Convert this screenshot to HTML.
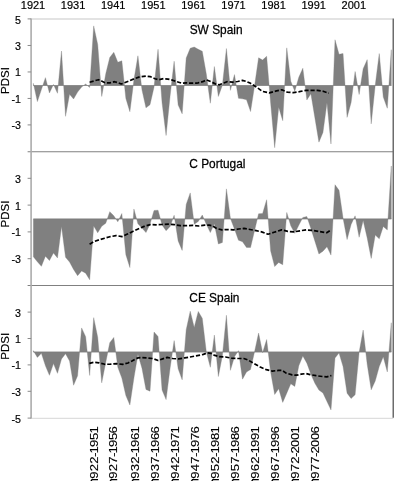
<!DOCTYPE html>
<html><head><meta charset="utf-8"><title>PDSI</title>
<style>
html,body{margin:0;padding:0;background:#fff;}
body{width:394px;height:481px;overflow:hidden;}
svg{display:block;filter:grayscale(1);font-family:"Liberation Sans",sans-serif;fill:#000;}
text{stroke:#000;}
</style></head><body>
<svg width="394" height="481" viewBox="0 0 394 481">
<rect x="0" y="0" width="394" height="481" fill="#ffffff"/>
<path d="M33.36,85.50 L33.36,83.35 L37.38,101.62 L41.40,89.57 L45.43,77.65 L49.45,93.01 L53.47,84.41 L57.49,93.28 L61.51,51.04 L65.54,116.31 L69.56,94.34 L73.58,98.97 L77.60,92.08 L81.62,87.05 L85.65,84.01 L89.67,87.45 L93.69,25.88 L97.71,44.42 L101.73,96.45 L105.76,73.81 L109.78,57.40 L113.80,52.36 L117.82,62.29 L121.84,60.84 L125.87,98.44 L129.89,111.68 L133.91,79.90 L137.93,55.81 L141.95,89.83 L145.98,107.84 L150.00,104.66 L154.02,87.19 L158.04,49.32 L162.06,102.81 L166.09,135.51 L170.11,95.66 L174.13,61.24 L178.15,105.06 L182.17,113.80 L186.20,58.06 L190.22,48.26 L194.24,47.07 L198.26,49.32 L202.28,51.31 L206.31,73.95 L210.33,103.21 L214.35,66.53 L218.37,96.45 L222.39,85.20 L226.42,48.53 L230.44,90.36 L234.46,74.61 L238.48,98.31 L242.50,98.84 L246.53,99.76 L250.55,111.55 L254.57,85.86 L258.59,57.79 L262.61,60.04 L266.64,56.34 L270.66,103.21 L274.68,147.69 L278.70,107.18 L282.72,120.68 L286.75,47.86 L290.77,81.23 L294.79,91.16 L298.81,77.26 L302.83,68.25 L306.86,99.90 L310.88,93.81 L314.90,117.90 L318.92,142.13 L322.94,132.47 L326.97,102.81 L330.99,143.99 L335.01,39.79 L339.03,54.35 L343.05,53.56 L347.08,117.37 L351.10,102.41 L355.12,71.56 L359.14,94.47 L363.16,68.78 L367.19,59.65 L371.21,123.86 L375.23,85.20 L379.25,53.56 L383.27,97.12 L387.30,108.24 L391.32,49.72 L391.32,85.50 Z" fill="#808080" stroke="#808080" stroke-width="0.35" stroke-linejoin="miter" stroke-miterlimit="5"/>
<line x1="33.36" y1="85.50" x2="391.32" y2="85.50" stroke="#7a7a7a" stroke-width="0.6"/>
<path d="M89.6,82.2 L93.9,81.0 L98.5,79.7 L101.5,81.0 L105.3,82.8 L109.9,82.8 L114.5,81.7 L118.3,82.8 L121.3,84.0 L125.1,82.5 L129.7,80.7 L134.3,78.7 L138.8,77.1 L145.9,76.1 L150.5,76.7 L155.0,78.7 L158.8,79.7 L163.4,78.7 L168.0,79.1 L172.5,80.2 L177.1,81.7 L181.7,83.2 L186.3,82.8 L190.8,83.2 L196.0,83.2 L198.1,82.8 L202.7,81.7 L206.5,79.9 L211.0,81.7 L215.6,84.0 L219.4,84.8 L223.2,83.2 L227.0,81.7 L232.4,82.2 L237.7,81.5 L242.3,80.4 L246.8,81.6 L250.0,83.1 L252.6,84.6 L257.1,87.6 L262.5,91.4 L269.3,92.9 L275.4,91.2 L281.8,89.8 L287.2,92.1 L293.3,92.7 L299.4,91.7 L306.0,90.3 L311.0,90.3 L317.5,90.3 L323.2,91.3 L328.8,93.3" fill="none" stroke="#000" stroke-width="1.7" stroke-dasharray="4.2 1.9" stroke-linejoin="round"/>
<path d="M33.36,218.90 L33.36,256.82 L37.38,261.78 L41.40,266.34 L45.43,256.15 L49.45,260.58 L53.47,252.94 L57.49,257.90 L61.51,226.41 L65.54,257.23 L69.56,262.05 L73.58,269.42 L77.60,275.72 L81.62,270.89 L85.65,273.17 L89.67,279.74 L93.69,226.00 L97.71,232.84 L101.73,226.27 L105.76,223.19 L109.78,211.67 L113.80,215.82 L117.82,221.85 L121.84,213.54 L125.87,254.68 L129.89,267.54 L133.91,208.99 L137.93,223.86 L141.95,228.01 L145.98,232.57 L150.00,224.13 L154.02,210.46 L158.04,210.19 L162.06,224.93 L166.09,230.69 L170.11,226.41 L174.13,215.28 L178.15,240.88 L182.17,250.39 L186.20,204.43 L190.22,192.91 L194.24,224.13 L198.26,221.45 L202.28,215.02 L206.31,224.13 L210.33,232.57 L214.35,223.86 L218.37,243.96 L222.39,242.49 L226.42,188.89 L230.44,218.50 L234.46,229.09 L238.48,240.21 L242.50,241.68 L246.53,247.44 L250.55,247.44 L254.57,230.56 L258.59,213.81 L262.61,213.54 L266.64,199.74 L270.66,251.06 L274.68,266.61 L278.70,262.45 L282.72,264.73 L286.75,212.47 L290.77,225.74 L294.79,233.37 L298.81,225.20 L302.83,217.43 L306.86,216.62 L310.88,228.42 L314.90,241.15 L318.92,254.01 L322.94,251.20 L326.97,246.64 L330.99,255.08 L335.01,184.73 L339.03,190.36 L343.05,218.10 L347.08,239.54 L351.10,224.53 L355.12,215.82 L359.14,237.26 L363.16,220.51 L367.19,237.93 L371.21,258.43 L375.23,235.12 L379.25,238.87 L383.27,226.41 L387.30,229.89 L391.32,165.97 L391.32,218.90 Z" fill="#808080" stroke="#808080" stroke-width="0.35" stroke-linejoin="miter" stroke-miterlimit="5"/>
<line x1="33.36" y1="218.90" x2="391.32" y2="218.90" stroke="#7a7a7a" stroke-width="0.6"/>
<path d="M89.6,244.2 L93.9,241.6 L99.2,239.8 L104.6,238.2 L109.9,236.7 L116.0,235.6 L122.1,236.6 L127.4,234.1 L132.7,231.5 L138.1,229.0 L144.2,226.4 L150.3,224.6 L156.0,224.8 L162.1,224.5 L168.2,224.2 L174.3,224.6 L180.4,225.7 L186.5,225.7 L192.5,225.4 L198.6,226.0 L204.7,225.1 L209.3,225.1 L212.0,225.7 L216.6,228.4 L221.9,229.9 L227.2,229.5 L233.3,229.9 L238.6,229.0 L244.0,228.4 L250.1,229.5 L256.2,230.6 L262.3,232.1 L268.0,234.2 L274.1,232.3 L281.7,229.9 L287.8,231.4 L293.9,231.9 L300.0,230.8 L306.1,229.9 L312.2,230.4 L318.3,231.3 L326.7,232.7 L331.3,229.9" fill="none" stroke="#000" stroke-width="1.7" stroke-dasharray="4.2 1.9" stroke-linejoin="round"/>
<path d="M33.36,352.00 L33.36,350.64 L37.38,357.38 L41.40,353.28 L45.43,365.82 L49.45,375.33 L53.47,363.58 L57.49,373.35 L61.51,358.96 L65.54,353.68 L69.56,360.94 L73.58,385.23 L77.60,375.72 L81.62,327.94 L85.65,336.65 L89.67,375.46 L93.69,317.64 L97.71,337.18 L101.73,382.85 L105.76,362.26 L109.78,342.72 L113.80,337.44 L117.82,367.28 L121.84,378.10 L125.87,395.52 L129.89,405.03 L133.91,378.10 L137.93,354.34 L141.95,368.20 L145.98,389.45 L150.00,391.17 L154.02,332.03 L158.04,336.52 L162.06,389.98 L166.09,399.62 L170.11,367.94 L174.13,340.61 L178.15,368.86 L182.17,379.82 L186.20,329.66 L190.22,311.18 L194.24,327.41 L198.26,311.44 L202.28,318.30 L206.31,351.70 L210.33,367.28 L214.35,335.07 L218.37,376.52 L222.39,355.66 L226.42,315.27 L230.44,370.31 L234.46,356.72 L238.48,350.64 L242.50,379.16 L246.53,371.90 L250.55,369.52 L254.57,351.70 L258.59,333.09 L262.61,352.76 L266.64,339.56 L270.66,372.16 L274.68,394.47 L278.70,388.66 L282.72,402.39 L286.75,393.15 L290.77,383.78 L294.79,386.42 L298.81,365.82 L302.83,355.92 L306.86,363.18 L310.88,374.14 L314.90,383.25 L318.92,390.11 L322.94,392.88 L326.97,401.60 L330.99,409.91 L335.01,358.04 L339.03,353.02 L343.05,366.62 L347.08,393.15 L351.10,398.56 L355.12,394.73 L359.14,352.36 L363.16,330.05 L367.19,364.37 L371.21,389.85 L375.23,381.00 L379.25,366.62 L383.27,356.72 L387.30,371.90 L391.32,322.79 L391.32,352.00 Z" fill="#808080" stroke="#808080" stroke-width="0.35" stroke-linejoin="miter" stroke-miterlimit="5"/>
<line x1="33.36" y1="352.00" x2="391.32" y2="352.00" stroke="#7a7a7a" stroke-width="0.6"/>
<path d="M89.3,363.4 L94.2,362.2 L99.0,362.8 L104.8,364.3 L110.5,364.2 L116.6,363.7 L122.7,364.4 L128.0,363.0 L132.0,361.0 L135.0,359.2 L138.1,357.9 L142.0,357.6 L146.7,357.9 L152.8,358.5 L158.1,360.5 L162.6,358.9 L167.2,357.4 L172.5,358.5 L178.6,358.9 L184.7,357.9 L190.1,357.0 L196.0,355.9 L203.4,354.4 L207.2,352.9 L211.0,353.3 L214.8,355.4 L219.4,356.7 L225.5,357.0 L231.6,358.2 L237.7,358.5 L243.8,358.5 L248.0,360.0 L254.1,363.5 L260.2,367.0 L266.3,369.6 L272.4,371.1 L278.5,370.4 L282.3,370.4 L286.1,373.1 L292.2,374.9 L296.7,375.2 L301.3,374.2 L306.0,373.5 L310.1,374.6 L316.2,375.7 L322.3,376.5 L326.8,376.9 L331.4,375.5" fill="none" stroke="#000" stroke-width="1.7" stroke-dasharray="4.2 1.9" stroke-linejoin="round"/>
<line x1="31.10" y1="18.90" x2="392.60" y2="18.90" stroke="#dadada" stroke-width="1.5"/>
<line x1="31.10" y1="418.30" x2="393.30" y2="418.30" stroke="#d6d6d6" stroke-width="1"/>
<line x1="27.60" y1="151.80" x2="393.30" y2="151.80" stroke="#808080" stroke-width="1.05"/>
<line x1="27.60" y1="285.50" x2="393.30" y2="285.50" stroke="#808080" stroke-width="1.05"/>
<line x1="31.10" y1="18.40" x2="31.10" y2="418.60" stroke="#acacac" stroke-width="1.60"/>
<line x1="393.30" y1="18.40" x2="393.30" y2="417.70" stroke="#6c6c6c" stroke-width="1.6"/>
<line x1="27.6" y1="18.90" x2="31.10" y2="18.90" stroke="#8a8a8a" stroke-width="1"/>
<line x1="27.6" y1="45.48" x2="31.10" y2="45.48" stroke="#8a8a8a" stroke-width="1"/>
<line x1="27.6" y1="71.96" x2="31.10" y2="71.96" stroke="#8a8a8a" stroke-width="1"/>
<line x1="27.6" y1="98.44" x2="31.10" y2="98.44" stroke="#8a8a8a" stroke-width="1"/>
<line x1="27.6" y1="124.92" x2="31.10" y2="124.92" stroke="#8a8a8a" stroke-width="1"/>
<line x1="27.6" y1="178.30" x2="31.10" y2="178.30" stroke="#8a8a8a" stroke-width="1"/>
<line x1="27.6" y1="205.10" x2="31.10" y2="205.10" stroke="#8a8a8a" stroke-width="1"/>
<line x1="27.6" y1="231.90" x2="31.10" y2="231.90" stroke="#8a8a8a" stroke-width="1"/>
<line x1="27.6" y1="258.70" x2="31.10" y2="258.70" stroke="#8a8a8a" stroke-width="1"/>
<line x1="27.6" y1="312.10" x2="31.10" y2="312.10" stroke="#8a8a8a" stroke-width="1"/>
<line x1="27.6" y1="338.50" x2="31.10" y2="338.50" stroke="#8a8a8a" stroke-width="1"/>
<line x1="27.6" y1="364.90" x2="31.10" y2="364.90" stroke="#8a8a8a" stroke-width="1"/>
<line x1="27.6" y1="391.30" x2="31.10" y2="391.30" stroke="#8a8a8a" stroke-width="1"/>
<line x1="27.6" y1="418.10" x2="31.10" y2="418.10" stroke="#8a8a8a" stroke-width="1"/>
<text transform="translate(33.00,8.75)" text-anchor="middle" font-size="11.00" stroke-width="0.18">1921</text>
<text transform="translate(73.10,8.75)" text-anchor="middle" font-size="11.00" stroke-width="0.18">1931</text>
<text transform="translate(113.20,8.75)" text-anchor="middle" font-size="11.00" stroke-width="0.18">1941</text>
<text transform="translate(153.30,8.75)" text-anchor="middle" font-size="11.00" stroke-width="0.18">1951</text>
<text transform="translate(193.40,8.75)" text-anchor="middle" font-size="11.00" stroke-width="0.18">1961</text>
<text transform="translate(233.50,8.75)" text-anchor="middle" font-size="11.00" stroke-width="0.18">1971</text>
<text transform="translate(273.60,8.75)" text-anchor="middle" font-size="11.00" stroke-width="0.18">1981</text>
<text transform="translate(313.70,8.75)" text-anchor="middle" font-size="11.00" stroke-width="0.18">1991</text>
<text transform="translate(353.80,8.75)" text-anchor="middle" font-size="11.00" stroke-width="0.18">2001</text>
<text transform="translate(20.90,23.75) scale(0.920,1)" text-anchor="end" font-size="11.60" stroke-width="0.18">5</text>
<text transform="translate(20.90,49.93) scale(0.920,1)" text-anchor="end" font-size="11.60" stroke-width="0.18">3</text>
<text transform="translate(20.90,76.41) scale(0.920,1)" text-anchor="end" font-size="11.60" stroke-width="0.18">1</text>
<text transform="translate(20.90,102.89) scale(0.920,1)" text-anchor="end" font-size="11.60" stroke-width="0.18">-1</text>
<text transform="translate(20.90,129.37) scale(0.920,1)" text-anchor="end" font-size="11.60" stroke-width="0.18">-3</text>
<text transform="translate(20.90,182.75) scale(0.920,1)" text-anchor="end" font-size="11.60" stroke-width="0.18">3</text>
<text transform="translate(20.90,209.55) scale(0.920,1)" text-anchor="end" font-size="11.60" stroke-width="0.18">1</text>
<text transform="translate(20.90,236.35) scale(0.920,1)" text-anchor="end" font-size="11.60" stroke-width="0.18">-1</text>
<text transform="translate(20.90,263.15) scale(0.920,1)" text-anchor="end" font-size="11.60" stroke-width="0.18">-3</text>
<text transform="translate(20.90,316.55) scale(0.920,1)" text-anchor="end" font-size="11.60" stroke-width="0.18">3</text>
<text transform="translate(20.90,342.95) scale(0.920,1)" text-anchor="end" font-size="11.60" stroke-width="0.18">1</text>
<text transform="translate(20.90,369.35) scale(0.920,1)" text-anchor="end" font-size="11.60" stroke-width="0.18">-1</text>
<text transform="translate(20.90,395.75) scale(0.920,1)" text-anchor="end" font-size="11.60" stroke-width="0.18">-3</text>
<text transform="translate(20.90,422.55) scale(0.920,1)" text-anchor="end" font-size="11.60" stroke-width="0.18">-5</text>
<text transform="translate(9.00,80.60) rotate(-90) scale(1.080,1)" text-anchor="middle" font-size="10.67" stroke-width="0.18">PDSI</text>
<text transform="translate(9.00,214.00) rotate(-90) scale(1.080,1)" text-anchor="middle" font-size="10.67" stroke-width="0.18">PDSI</text>
<text transform="translate(9.00,346.20) rotate(-90) scale(1.080,1)" text-anchor="middle" font-size="10.67" stroke-width="0.18">PDSI</text>
<text transform="translate(189.70,34.10) scale(0.975,1)" text-anchor="start" font-size="12.20" stroke-width="0.25">SW Spain</text>
<text transform="translate(189.30,168.10) scale(0.975,1)" text-anchor="start" font-size="12.20" stroke-width="0.25">C Portugal</text>
<text transform="translate(189.30,302.20) scale(0.975,1)" text-anchor="start" font-size="12.20" stroke-width="0.25">CE Spain</text>
<text transform="translate(98.20,481) rotate(-90) scale(1.254,1)" x="1.83 7.78 13.72 19.38 21.89 27.11 32.62 37.96" text-anchor="start" font-size="10.4" stroke-width="0.14">922-1951</text>
<path d="M98.00,479.6 L91.30,479.6 M92.10,479.6 L90.70,481.5" stroke="#000" stroke-width="1.3" fill="none"/>
<text transform="translate(117.40,481) rotate(-90) scale(1.254,1)" x="1.83 7.78 13.72 19.38 21.89 27.11 32.62 37.96" text-anchor="start" font-size="10.4" stroke-width="0.14">927-1956</text>
<path d="M117.20,479.6 L110.50,479.6 M111.30,479.6 L109.90,481.5" stroke="#000" stroke-width="1.3" fill="none"/>
<text transform="translate(139.40,481) rotate(-90) scale(1.254,1)" x="1.83 7.78 13.72 19.38 21.89 27.11 32.62 37.96" text-anchor="start" font-size="10.4" stroke-width="0.14">932-1961</text>
<path d="M139.20,479.6 L132.50,479.6 M133.30,479.6 L131.90,481.5" stroke="#000" stroke-width="1.3" fill="none"/>
<text transform="translate(159.00,481) rotate(-90) scale(1.254,1)" x="1.83 7.78 13.72 19.38 21.89 27.11 32.62 37.96" text-anchor="start" font-size="10.4" stroke-width="0.14">937-1966</text>
<path d="M158.80,479.6 L152.10,479.6 M152.90,479.6 L151.50,481.5" stroke="#000" stroke-width="1.3" fill="none"/>
<text transform="translate(179.10,481) rotate(-90) scale(1.254,1)" x="1.83 7.78 13.72 19.38 21.89 27.11 32.62 37.96" text-anchor="start" font-size="10.4" stroke-width="0.14">942-1971</text>
<path d="M178.90,479.6 L172.20,479.6 M173.00,479.6 L171.60,481.5" stroke="#000" stroke-width="1.3" fill="none"/>
<text transform="translate(198.70,481) rotate(-90) scale(1.254,1)" x="1.83 7.78 13.72 19.38 21.89 27.11 32.62 37.96" text-anchor="start" font-size="10.4" stroke-width="0.14">947-1976</text>
<path d="M198.50,479.6 L191.80,479.6 M192.60,479.6 L191.20,481.5" stroke="#000" stroke-width="1.3" fill="none"/>
<text transform="translate(219.10,481) rotate(-90) scale(1.254,1)" x="1.83 7.78 13.72 19.38 21.89 27.11 32.62 37.96" text-anchor="start" font-size="10.4" stroke-width="0.14">952-1981</text>
<path d="M218.90,479.6 L212.20,479.6 M213.00,479.6 L211.60,481.5" stroke="#000" stroke-width="1.3" fill="none"/>
<text transform="translate(239.40,481) rotate(-90) scale(1.254,1)" x="1.83 7.78 13.72 19.38 21.89 27.11 32.62 37.96" text-anchor="start" font-size="10.4" stroke-width="0.14">957-1986</text>
<path d="M239.20,479.6 L232.50,479.6 M233.30,479.6 L231.90,481.5" stroke="#000" stroke-width="1.3" fill="none"/>
<text transform="translate(259.00,481) rotate(-90) scale(1.254,1)" x="1.83 7.78 13.72 19.38 21.89 27.11 32.62 37.96" text-anchor="start" font-size="10.4" stroke-width="0.14">962-1991</text>
<path d="M258.80,479.6 L252.10,479.6 M252.90,479.6 L251.50,481.5" stroke="#000" stroke-width="1.3" fill="none"/>
<text transform="translate(279.10,481) rotate(-90) scale(1.254,1)" x="1.83 7.78 13.72 19.38 21.89 27.11 32.62 37.96" text-anchor="start" font-size="10.4" stroke-width="0.14">967-1996</text>
<path d="M278.90,479.6 L272.20,479.6 M273.00,479.6 L271.60,481.5" stroke="#000" stroke-width="1.3" fill="none"/>
<text transform="translate(299.20,481) rotate(-90) scale(1.254,1)" x="1.83 7.78 13.72 19.38 21.89 27.11 32.62 37.96" text-anchor="start" font-size="10.4" stroke-width="0.14">972-2001</text>
<path d="M299.00,479.6 L292.30,479.6 M293.10,479.6 L291.70,481.5" stroke="#000" stroke-width="1.3" fill="none"/>
<text transform="translate(319.10,481) rotate(-90) scale(1.254,1)" x="1.83 7.78 13.72 19.38 21.89 27.11 32.62 37.96" text-anchor="start" font-size="10.4" stroke-width="0.14">977-2006</text>
<path d="M318.90,479.6 L312.20,479.6 M313.00,479.6 L311.60,481.5" stroke="#000" stroke-width="1.3" fill="none"/>
</svg>
</body></html>
